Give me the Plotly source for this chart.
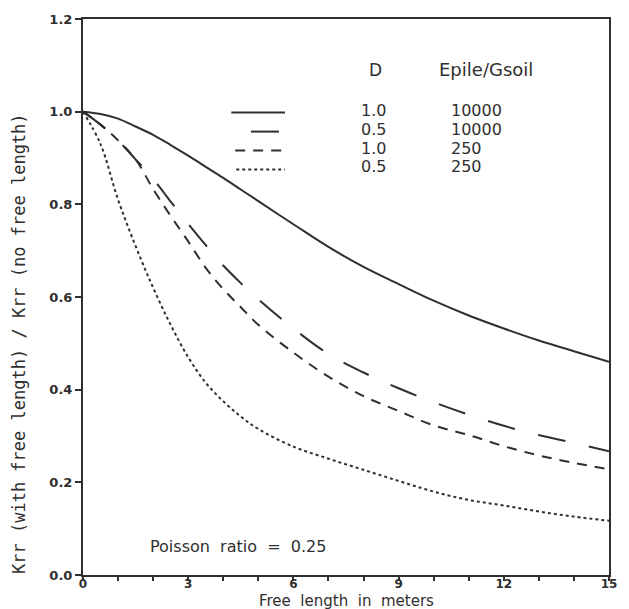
import plotly.graph_objects as go

# Free length (m)
x_vals = [0, 0.5, 1, 1.5, 2, 2.5, 3, 3.5, 4, 4.5, 5, 6, 7, 8, 9, 10, 11, 12, 13, 14, 15]

# D = 1.0, Epile/Gsoil = 10000 (solid)
y_d10_e10000 = [1.0, 0.995, 0.985, 0.968, 0.95, 0.928, 0.905, 0.881, 0.857, 0.832, 0.807, 0.757, 0.708,
                0.665, 0.628, 0.592, 0.560, 0.532, 0.506, 0.483, 0.460]
# D = 0.5, Epile/Gsoil = 10000 (long dash)
y_d05_e10000 = [1.0, 0.972, 0.938, 0.897, 0.855, 0.806, 0.758, 0.712, 0.668, 0.630, 0.595, 0.532, 0.477,
                0.437, 0.403, 0.373, 0.346, 0.322, 0.302, 0.285, 0.267]
# D = 1.0, Epile/Gsoil = 250 (medium dash)
y_d10_e250 = [1.0, 0.972, 0.938, 0.897, 0.833, 0.775, 0.720, 0.663, 0.617, 0.578, 0.540, 0.480, 0.428,
              0.386, 0.354, 0.323, 0.302, 0.278, 0.258, 0.242, 0.228]
# D = 0.5, Epile/Gsoil = 250 (dotted)
y_d05_e250 = [1.0, 0.930, 0.810, 0.710, 0.620, 0.540, 0.470, 0.415, 0.375, 0.342, 0.315, 0.277, 0.251,
              0.227, 0.203, 0.180, 0.162, 0.150, 0.137, 0.126, 0.117]

series = [y_d10_e10000, y_d05_e10000, y_d10_e250, y_d05_e250]
legend_D = ["1.0", "0.5", "1.0", "0.5"]
legend_E = ["10000", "10000", "250", "250"]
dashes = ["solid", "28px,24px", "10px,8px", "3px,3px"]

x_ticks = [0, 3, 6, 9, 12, 15]
y_ticks = [0.0, 0.2, 0.4, 0.6, 0.8, 1.0, 1.2]

x_title = "Free  length  in  meters"
y_title = "Krr (with free length) / Krr (no free length)"
note = "Poisson  ratio  =  0.25"

ink = "#2f2f2f"
font_main = "DejaVu Sans"
font_mono = "DejaVu Sans Mono"

fig = go.Figure()
for ys, dash in zip(series, dashes):
    fig.add_trace(go.Scatter(x=x_vals, y=ys, mode="lines",
                             line=dict(color=ink, width=2, dash=dash, shape="spline"),
                             showlegend=False, hoverinfo="skip"))

# Legend block (text + sample lines)
leg_rows_y = [1.002, 0.961, 0.920, 0.882]
leg_line_y = [0.998, 0.957, 0.916, 0.875]
leg_line_x0 = [4.23, 4.79, 4.34, 4.37]
leg_x1 = 5.76
annotations = [
    dict(x=8.35, y=1.09, text="D", showarrow=False, xanchor="center", yanchor="middle", size=17),
    dict(x=10.1, y=1.09, text="Epile/Gsoil", showarrow=False, xanchor="left", yanchor="middle", size=18),
    dict(x=1.85, y=0.062, text=note, showarrow=False, xanchor="left", yanchor="middle", size=16),
]
shapes = []
for i in range(4):
    annotations.append(dict(x=8.27, y=leg_rows_y[i], text=legend_D[i], showarrow=False,
                            xanchor="center", yanchor="middle", size=16))
    annotations.append(dict(x=10.45, y=leg_rows_y[i], text=legend_E[i], showarrow=False,
                            xanchor="left", yanchor="middle", size=16))
    shapes.append(dict(type="line", xref="x", yref="y", x0=leg_line_x0[i], x1=leg_x1,
                       y0=leg_line_y[i], y1=leg_line_y[i],
                       line=dict(color=ink, width=2, dash=dashes[i])))
for a in annotations:
    a["font"] = dict(family=font_main, size=a.pop("size"), color=ink)

# Axis titles as annotations for exact placement
annotations.append(dict(xref="paper", yref="paper", x=0.5, y=-0.047, text=x_title, showarrow=False,
                        xanchor="center", yanchor="middle", font=dict(family=font_main, size=15, color=ink)))
annotations.append(dict(xref="paper", yref="paper", x=-0.122, y=0.417, text=y_title, showarrow=False,
                        textangle=-90, xanchor="center", yanchor="middle",
                        font=dict(family=font_mono, size=17, color=ink)))

fig.update_layout(
    width=629, height=609,
    margin=dict(l=83, r=12, t=17, b=34),
    paper_bgcolor="white", plot_bgcolor="white",
    annotations=annotations, shapes=shapes,
    font=dict(family=font_main, color=ink),
)
fig.update_xaxes(
    range=[0, 15], tickvals=x_ticks, ticktext=[str(v) for v in x_ticks],
    ticks="outside", ticklen=4, tickwidth=1.5, tickcolor=ink,
    minor=dict(ticks="outside", dtick=1, ticklen=4, tickwidth=1.5, tickcolor=ink),
    showline=True, linecolor=ink, linewidth=2, mirror=True, showgrid=False, zeroline=False,
    tickfont=dict(family=font_main, size=12, color=ink, weight="bold"),
    ticklabelstandoff=-7,
)
fig.update_yaxes(
    range=[0, 1.2], tickvals=y_ticks, tickformat=".1f",
    ticks="outside", ticklen=6, tickwidth=1.5, tickcolor=ink,
    showline=True, linecolor=ink, linewidth=2, mirror=True, showgrid=False, zeroline=False,
    tickfont=dict(family=font_main, size=13, color=ink, weight="bold"),
)

fig.write_html("out.html")
